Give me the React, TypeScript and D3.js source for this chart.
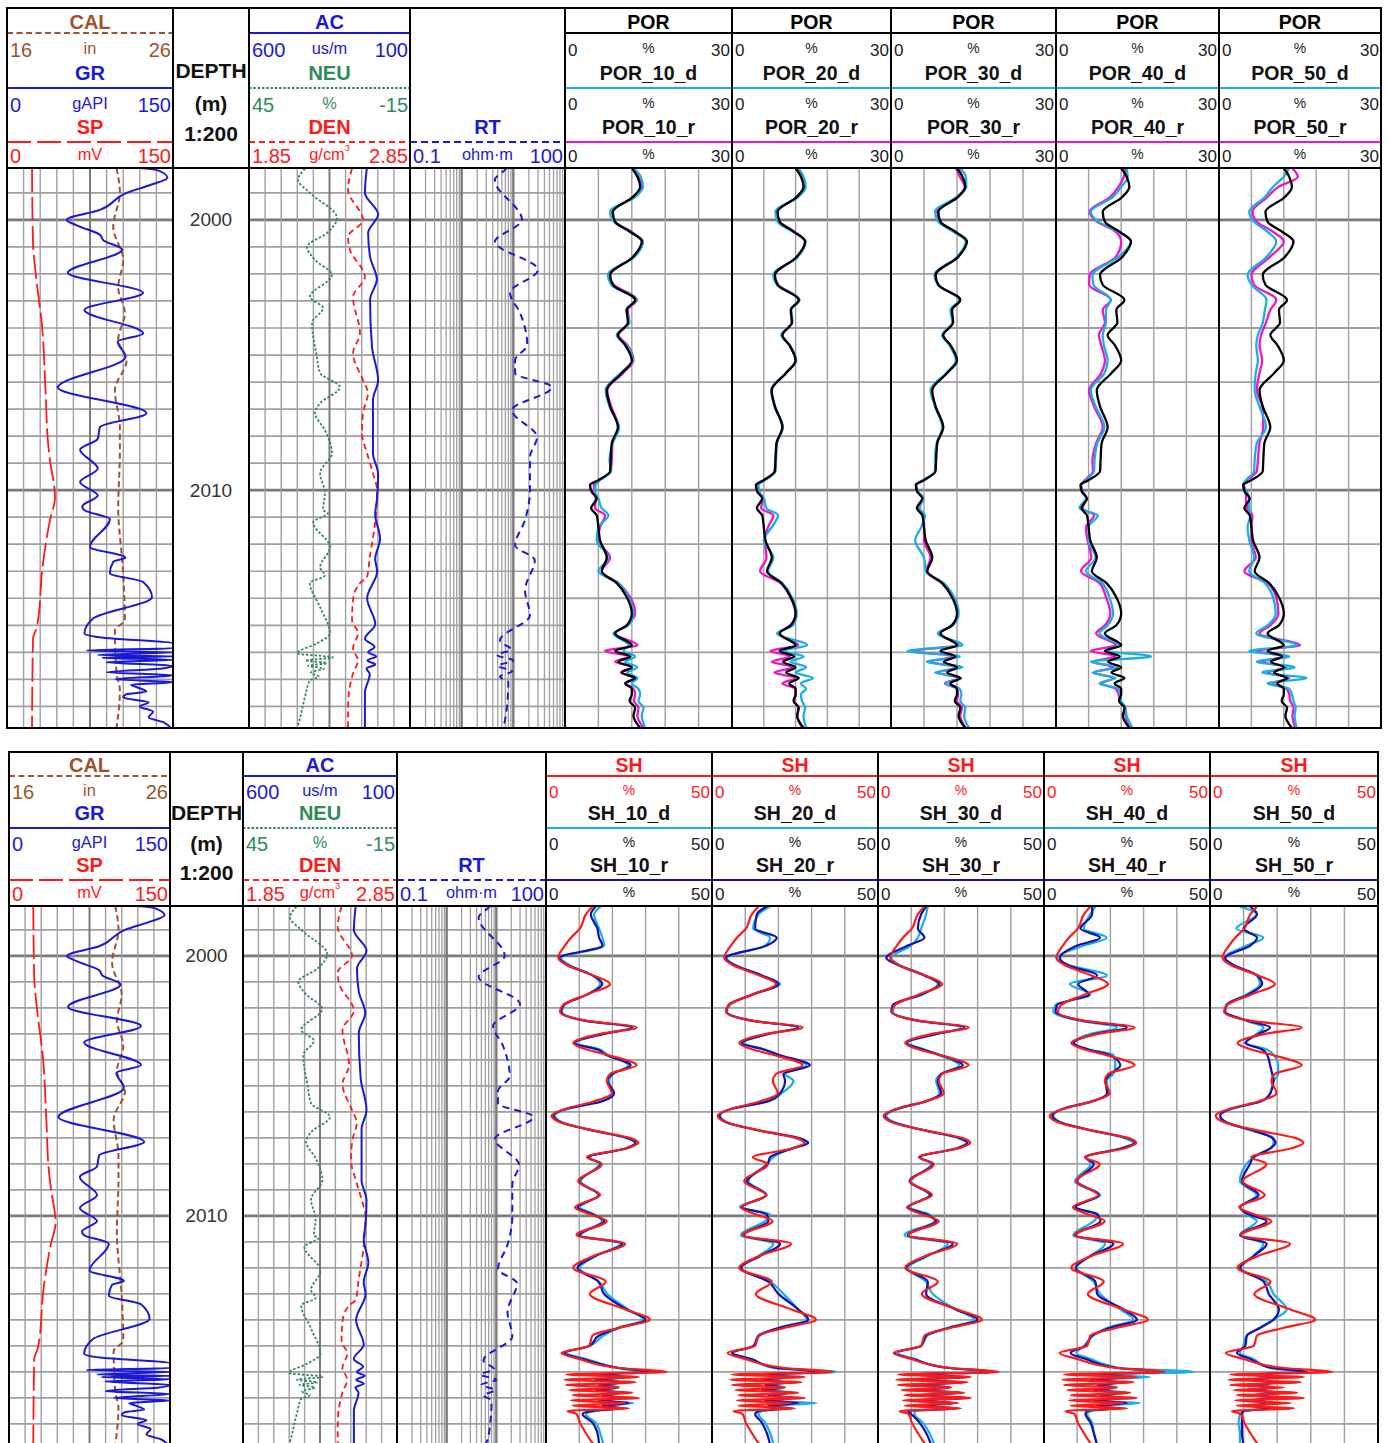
import * as d3 from "d3";
import type { ReactNode } from "react";

type Pt = [number, number];

const DEPTH_DOMAIN: [number, number] = [1998.08, 2018.8];

// ---- porosity comparison: depth knots (m) and values (%) ----
const porDepth = [
  1998.08, 1998.4, 1998.78, 1999.15, 1999.7, 2000.07, 2000.44, 2000.8, 2001.37, 2002.04,
  2002.4, 2002.96, 2003.33, 2003.8, 2004.26, 2004.63, 2005.2, 2005.67, 2006.3, 2006.9,
  2007.67, 2008.26, 2008.9, 2009.3, 2009.63, 2009.81, 2010.07, 2010.3, 2010.67, 2010.93,
  2011.37, 2011.85, 2012.5, 2013.0, 2013.44, 2013.96, 2014.56, 2015.0, 2015.3, 2015.74,
  2015.95, 2016.15, 2016.35, 2016.55, 2016.75, 2016.95, 2017.15, 2017.35, 2017.55, 2017.8,
  2018.05, 2018.35, 2018.8,
];
const porCore = [
  12.0, 13.0, 13.5, 12.2, 8.6, 9.0, 11.7, 13.8, 12.2, 8.1,
  8.6, 12.6, 11.1, 11.3, 9.5, 10.8, 12.0, 10.2, 7.5, 8.1,
  9.5, 8.4, 8.2, 8.1, 6.0, 4.5, 4.8, 5.7, 4.7, 5.7,
  6.0, 6.3, 7.5, 6.6, 9.3, 11.1, 12.0, 11.1, 9.0, 12.0,
  9.0, 11.7, 9.6, 12.0, 10.2, 12.6, 10.8, 12.0, 12.0, 11.6,
  12.6, 12.3, 13.5,
];
const por10d = [
  12.3, 13.6, 14.0, 12.6, 8.1, 8.8, 11.7, 14.0, 12.5, 7.7,
  8.3, 12.8, 11.0, 11.6, 9.3, 11.0, 12.2, 10.0, 7.3, 8.0,
  9.7, 8.6, 8.0, 8.3, 6.3, 5.5, 5.4, 6.0, 6.6, 7.8,
  6.0, 5.7, 7.8, 6.0, 9.6, 11.4, 12.3, 11.4, 8.7, 11.4,
  10.5, 12.6, 10.8, 13.0, 11.2, 13.0, 12.0, 13.2, 13.5, 13.2,
  14.1, 13.8, 14.4,
];
const por10r = [
  12.1, 13.2, 13.8, 12.4, 8.4, 9.0, 11.9, 14.0, 12.3, 8.0,
  8.8, 12.9, 11.3, 11.5, 9.6, 11.2, 12.3, 10.4, 7.6, 8.3,
  9.6, 8.5, 8.4, 8.2, 6.2, 5.2, 5.3, 5.5, 5.4, 7.2,
  6.3, 5.9, 8.1, 6.6, 9.6, 11.7, 12.6, 11.1, 9.0, 13.0,
  7.2, 11.4, 9.0, 12.0, 10.0, 12.5, 11.0, 12.3, 12.6, 12.4,
  13.2, 13.0, 14.1,
];
const por20d = [
  12.5, 13.5, 13.9, 12.5, 8.2, 8.6, 11.5, 13.9, 12.4, 7.8,
  8.5, 12.7, 11.2, 11.4, 9.3, 10.9, 12.1, 10.1, 7.4, 8.0,
  9.6, 8.5, 8.3, 8.2, 6.2, 5.0, 5.2, 6.0, 6.5, 8.7,
  7.5, 6.0, 7.8, 6.8, 9.5, 11.3, 12.2, 11.5, 8.5, 14.2,
  9.5, 13.5, 11.0, 14.0, 12.0, 15.3, 13.0, 14.0, 13.0, 13.2,
  13.8, 13.5, 14.0,
];
const por20r = [
  12.2, 13.3, 13.6, 12.3, 8.5, 9.0, 11.8, 13.8, 12.3, 8.0,
  8.7, 12.7, 11.1, 11.3, 9.5, 10.8, 12.0, 10.2, 7.4, 8.1,
  9.5, 8.4, 8.2, 8.0, 6.0, 4.8, 5.0, 5.8, 5.5, 7.8,
  6.8, 6.2, 6.5, 5.3, 9.2, 11.0, 12.0, 11.0, 8.8, 12.5,
  7.2, 11.0, 7.5, 11.5, 8.0, 12.0, 9.5, 12.0, 12.0, 11.8,
  12.5, 12.3, 13.3,
];
const por30d = [
  12.5, 13.6, 13.7, 12.0, 8.0, 8.6, 11.4, 13.6, 12.0, 7.9,
  8.5, 12.4, 10.8, 11.2, 9.3, 10.6, 11.8, 10.0, 7.2, 8.0,
  9.3, 8.3, 8.0, 8.0, 5.8, 4.6, 5.0, 5.9, 5.2, 6.2,
  5.5, 4.4, 6.0, 6.4, 9.6, 11.5, 12.3, 11.3, 8.5, 13.0,
  3.0, 12.5, 6.5, 13.0, 8.0, 12.8, 10.0, 12.5, 12.8, 12.6,
  13.5, 13.3, 14.2,
];
const por30r = [
  11.8, 12.5, 13.4, 12.0, 8.4, 8.9, 11.6, 13.7, 12.2, 8.1,
  8.6, 12.5, 11.0, 11.2, 9.4, 10.7, 11.9, 10.1, 7.4, 8.1,
  9.4, 8.4, 8.1, 8.0, 5.9, 4.6, 4.9, 5.7, 5.0, 5.9,
  6.0, 6.0, 7.2, 6.4, 9.3, 11.2, 12.1, 11.0, 8.8, 12.3,
  4.0, 11.5, 7.0, 12.0, 8.5, 12.3, 9.8, 12.0, 12.2, 12.0,
  12.9, 12.6, 13.6,
];
const por40d = [
  13.0, 13.2, 12.0, 10.5, 6.4, 7.8, 11.5, 13.8, 11.5, 6.7,
  6.9, 10.1, 9.2, 9.2, 8.6, 8.8, 9.5, 8.9, 6.4, 7.3,
  8.9, 7.6, 7.1, 7.0, 5.5, 4.6, 4.8, 5.5, 4.3, 7.7,
  6.0, 6.0, 7.3, 5.5, 8.5, 9.8, 10.5, 9.5, 8.0, 11.5,
  9.5, 17.5, 6.4, 11.5, 6.7, 11.0, 8.0, 11.5, 11.8, 12.0,
  12.8, 13.0, 14.1,
];
const por40r = [
  12.8, 12.5, 11.5, 10.0, 6.2, 7.6, 11.0, 12.0, 11.0, 6.2,
  6.1, 10.1, 8.6, 9.0, 7.9, 8.3, 9.0, 8.3, 6.1, 7.0,
  8.6, 7.4, 6.7, 6.8, 5.3, 4.6, 5.0, 5.6, 4.9, 7.0,
  5.5, 5.8, 6.5, 4.6, 8.0, 9.2, 10.0, 9.0, 7.4, 11.0,
  6.4, 11.0, 6.7, 10.5, 7.0, 10.5, 8.5, 11.0, 11.5, 11.8,
  12.6, 12.8, 13.5,
];
const por50d = [
  13.0, 12.0, 10.0, 8.5, 5.6, 6.5, 9.0, 10.6, 8.8, 5.3,
  6.0, 8.8, 8.5, 8.1, 7.2, 6.9, 7.2, 6.8, 6.6, 7.5,
  8.7, 7.0, 6.6, 6.5, 5.0, 4.4, 5.2, 5.6, 5.6, 5.8,
  5.3, 5.6, 6.5, 5.6, 8.5, 10.0, 10.5, 9.0, 6.9, 14.4,
  5.6, 13.0, 7.0, 14.0, 8.0, 16.2, 9.0, 13.0, 13.5, 13.8,
  14.2, 14.0, 14.4,
];
const por50r = [
  13.5, 14.6, 11.0, 9.0, 6.2, 7.0, 10.0, 12.0, 9.4, 6.0,
  6.5, 10.6, 9.5, 8.7, 7.8, 7.5, 8.0, 7.5, 7.0, 8.0,
  8.2, 7.5, 7.2, 7.0, 5.2, 4.6, 5.0, 5.0, 5.2, 6.2,
  6.0, 6.0, 6.8, 4.7, 9.0, 10.6, 11.0, 9.5, 7.5, 15.0,
  7.0, 12.0, 8.0, 12.5, 9.0, 13.0, 10.0, 12.5, 13.0, 13.2,
  13.8, 13.6, 14.1,
];

// ---- shale content comparison: depth knots (m) and values (%) ----
const shDepth = [
  1998.1, 1998.4, 1998.95, 1999.3, 1999.6, 2000.08, 2000.35, 2000.75, 2001.08, 2001.48,
  2001.88, 2002.15, 2002.5, 2002.75, 2003.0, 2003.35, 2003.6, 2003.8, 2004.21, 2004.54,
  2004.8, 2005.28, 2005.6, 2005.87, 2006.14, 2006.4, 2006.74, 2007.0, 2007.2, 2007.4,
  2007.74, 2008.0, 2008.67, 2009.2, 2009.67, 2009.94, 2010.2, 2010.74, 2011.07, 2011.54,
  2012.0, 2012.53, 2013.0, 2013.6, 2013.99, 2014.3, 2014.6, 2015.0, 2015.27, 2015.5,
  2015.85, 2016.0, 2016.1, 2016.2, 2016.3, 2016.4, 2016.5, 2016.6, 2016.7, 2016.8,
  2016.9, 2017.0, 2017.1, 2017.2, 2017.3, 2017.4, 2017.5, 2017.62, 2017.95, 2018.35,
  2018.8,
];
const shCore = [
  14.0, 12.0, 10.2, 7.5, 5.7, 3.7, 6.2, 14.3, 19.3, 12.3,
  5.2, 4.2, 12.3, 27.3, 16.3, 8.2, 12.3, 18.3, 27.3, 19.3,
  18.3, 19.8, 14.3, 6.2, 1.7, 4.2, 15.3, 25.3, 27.8, 24.3,
  12.3, 16.8, 9.7, 16.3, 8.7, 13.2, 18.3, 9.2, 23.8, 14.3,
  8.2, 18.0, 13.2, 24.0, 31.3, 22.0, 14.0, 13.0, 4.7, 10.0,
  22.0, 36.4, 6.0, 28.0, 5.5, 27.0, 6.0, 22.0, 7.0, 26.0,
  8.0, 28.0, 7.5, 24.0, 8.0, 25.0, 6.5, 9.2, 10.2, 12.0,
  14.3,
];
const sh10d = [
  16.5, 14.5, 16.0, 17.0, 17.5, 4.5, 7.0, 14.0, 16.3, 12.5,
  5.5, 4.8, 12.0, 25.3, 17.0, 9.0, 16.3, 18.5, 24.8, 20.3,
  19.0, 20.0, 16.5, 7.0, 2.7, 4.8, 15.0, 24.0, 26.8, 24.0,
  13.2, 16.0, 10.5, 15.8, 10.2, 14.5, 16.8, 10.5, 22.3, 15.0,
  10.2, 16.0, 18.5, 24.8, 29.3, 22.0, 17.3, 13.2, 6.2, 12.0,
  21.3, 27.3, 18, 25, 17, 24, 18, 22, 17, 23,
  19, 21, 17, 26.3, 18, 22, 15, 12.0, 15.0, 16.3,
  17.3,
];
const sh10r = [
  15.0, 13.5, 15.5, 16.0, 17.0, 4.0, 6.5, 14.0, 17.0, 12.5,
  5.5, 4.5, 12.0, 26.0, 17.5, 8.5, 15.5, 18.0, 25.5, 20.0,
  18.5, 20.5, 16.8, 6.5, 2.2, 4.5, 15.0, 24.5, 27.0, 24.3,
  12.8, 16.5, 10.0, 16.0, 9.5, 14.0, 17.5, 10.0, 23.0, 14.8,
  9.5, 15.8, 17.5, 24.3, 30.0, 22.0, 16.0, 13.0, 5.5, 11.0,
  22.0, 31.3, 16, 24, 15, 23, 16, 21, 15, 22,
  17, 23, 16, 25, 17, 23, 14, 11.0, 14.0, 15.5,
  16.0,
];
const sh20d = [
  17.5, 14.0, 12.4, 17.5, 16.0, 4.4, 7.0, 15.0, 20.5, 12.0,
  5.5, 4.5, 12.5, 25.5, 17.0, 9.5, 16.0, 20.0, 28.5, 22.0,
  24.5, 21.0, 17.0, 6.5, 2.4, 4.5, 15.0, 25.0, 28.5, 24.0,
  18.5, 16.5, 11.0, 16.5, 8.4, 17.5, 16.0, 8.7, 18.5, 14.0,
  8.4, 17.5, 21.5, 26.0, 28.5, 20.0, 14.5, 12.5, 6.4, 12.0,
  18.5, 37.5, 17, 24, 16, 23, 18, 22, 17, 24,
  18, 25, 17, 31.5, 18, 24, 15, 14.0, 16.0, 17.5,
  18.5,
];
const sh20r = [
  16.5, 13.5, 13.0, 19.5, 16.5, 4.0, 6.8, 15.0, 20.0, 12.3,
  5.0, 4.3, 12.3, 26.0, 17.0, 9.0, 15.5, 20.0, 29.5, 21.5,
  22.0, 20.5, 16.5, 6.2, 2.2, 4.3, 15.3, 26.0, 29.0, 24.5,
  17.5, 16.8, 10.5, 16.3, 9.0, 16.5, 17.0, 9.5, 20.5, 14.5,
  8.8, 17.0, 20.0, 26.0, 29.0, 20.5, 14.0, 12.5, 6.0, 11.5,
  19.5, 33.5, 16, 24, 15, 22, 16, 21, 15, 23,
  17, 24, 16, 26, 17, 22, 14, 13.0, 15.0, 16.5,
  17.5,
];
const sh30d = [
  15.0, 14.5, 13.0, 12.0, 10.0, 4.0, 6.5, 14.0, 18.0, 13.5,
  5.0, 4.5, 12.0, 25.0, 18.0, 9.0, 14.0, 18.0, 24.5, 19.0,
  17.5, 18.5, 14.5, 6.5, 2.5, 5.0, 15.0, 24.0, 26.5, 23.5,
  13.0, 16.0, 10.0, 15.5, 9.5, 15.5, 17.0, 8.0, 21.0, 15.0,
  9.0, 14.5, 16.5, 23.5, 29.0, 21.0, 15.0, 13.0, 6.0, 11.0,
  21.0, 34.0, 14, 26, 12, 25, 13, 21, 12, 24,
  14, 26, 12, 23, 13, 24, 11, 11.0, 13.5, 15.5,
  17.0,
];
const sh30r = [
  14.5, 13.0, 12.0, 14.0, 9.0, 2.5, 6.0, 14.0, 18.5, 13.0,
  4.5, 4.0, 12.5, 26.0, 17.5, 8.5, 13.5, 18.5, 25.5, 19.0,
  18.0, 19.0, 14.0, 6.0, 2.0, 4.5, 15.0, 24.5, 27.0, 24.0,
  12.5, 16.5, 9.5, 15.8, 9.0, 14.5, 17.5, 9.0, 22.5, 14.5,
  8.5, 15.0, 14.5, 23.5, 30.0, 21.5, 14.5, 13.0, 5.0, 10.5,
  21.5, 35.0, 10, 27, 9, 26, 10, 22, 10, 25,
  11, 27, 10, 24, 11, 24, 9, 10.0, 12.5, 14.5,
  16.0,
];
const sh40d = [
  15.5, 13.9, 12.0, 18.9, 12.0, 4.0, 7.5, 18.9, 7.8, 14.0,
  3.5, 2.8, 11.0, 22.0, 14.0, 8.8, 13.0, 20.9, 21.5, 20.9,
  18.9, 19.5, 14.0, 6.0, 2.8, 5.0, 15.0, 24.0, 26.9, 23.0,
  12.8, 14.0, 9.3, 16.9, 8.8, 16.4, 15.0, 8.8, 18.4, 14.0,
  9.8, 15.0, 16.9, 23.0, 26.9, 19.0, 14.9, 12.0, 9.8, 14.0,
  22.9, 45.0, 16, 32, 15, 24, 17, 22, 16, 25,
  18, 24, 16, 28.9, 17, 22, 14, 13.0, 14.5, 15.0,
  15.9,
];
const sh40r = [
  14.5, 14.5, 11.0, 16.9, 10.0, 4.8, 7.0, 16.0, 10.3, 13.5,
  4.0, 3.5, 12.0, 24.9, 15.5, 9.0, 13.5, 19.5, 23.0, 20.0,
  18.5, 19.0, 14.5, 6.0, 2.5, 4.8, 15.5, 25.0, 27.5, 23.5,
  12.5, 15.0, 10.0, 16.5, 9.5, 16.0, 17.0, 9.5, 20.9, 14.0,
  9.5, 15.5, 16.0, 24.0, 28.0, 20.0, 14.5, 12.5, 8.0, 12.5,
  22.0, 35.0, 15, 26, 14, 23, 16, 21, 15, 23,
  17, 23, 15, 25, 16, 21, 13, 12.5, 14.0, 15.0,
  16.0,
];
const sh50d = [
  8.9, 13.9, 7.8, 15.9, 10.9, 4.3, 6.8, 13.9, 14.9, 10.9,
  4.8, 4.3, 10.9, 15.9, 13.9, 10.9, 16.9, 18.9, 20.3, 20.3,
  18.9, 17.9, 14.9, 6.8, 3.0, 4.8, 12.9, 18.9, 18.9, 17.9,
  12.9, 10.9, 8.9, 13.9, 8.9, 10.9, 13.9, 8.9, 15.9, 12.9,
  8.9, 16.9, 18.9, 22.8, 18.9, 14.9, 10.9, 9.9, 8.9, 12.9,
  17.9, 26.8, 12, 20, 11, 19, 12, 18, 11, 20,
  12, 21, 11, 19, 12, 18, 10, 8.9, 8.5, 8.9,
  8.9,
];
const sh50r = [
  12.0, 14.0, 10.0, 14.0, 12.0, 4.5, 7.0, 14.0, 15.5, 11.5,
  5.0, 4.5, 11.5, 17.9, 14.5, 10.5, 15.5, 17.0, 17.9, 18.5,
  18.9, 18.0, 15.0, 6.5, 3.0, 4.8, 13.5, 18.5, 19.5, 18.0,
  13.0, 11.9, 9.5, 14.5, 9.0, 11.5, 16.9, 9.0, 16.9, 13.0,
  9.0, 16.0, 17.5, 20.5, 18.9, 15.0, 11.0, 10.5, 8.0, 12.0,
  18.5, 28.8, 13, 22, 12, 21, 13, 19, 12, 21,
  13, 22, 12, 20, 12, 19, 10, 9.5, 9.5, 9.5,
  10.0,
];

// ---- conventional logs: [depth m, value] ----
const grLog: Pt[] = [
  [1998.08, 120], [1998.15, 135], [1998.44, 145], [1998.7, 130], [1999.0, 108], [1999.63, 84],
  [2000.0, 54], [2000.2, 63], [2000.55, 84], [2000.75, 87], [2001.1, 104], [2001.96, 55],
  [2002.7, 123], [2003.33, 70], [2004.2, 123], [2004.5, 100], [2005.07, 107], [2006.2, 46],
  [2007.15, 126], [2007.67, 84], [2008.1, 82], [2008.5, 66], [2009.2, 82], [2009.7, 66],
  [2010.2, 82], [2010.6, 68], [2010.74, 70], [2011.07, 93], [2012.1, 75], [2012.5, 107],
  [2012.65, 96], [2013.07, 93], [2013.4, 123], [2013.96, 131], [2014.74, 78], [2015.3, 70],
  [2015.45, 85], [2015.67, 150], [2015.85, 150], [2015.93, 72], [2016.0, 150], [2016.1, 82],
  [2016.15, 150], [2016.2, 86], [2016.28, 150], [2016.37, 90], [2016.5, 150], [2016.6, 140],
  [2016.74, 90], [2016.85, 150], [2017.0, 98], [2017.1, 150], [2017.2, 112], [2017.3, 118],
  [2017.45, 126], [2017.55, 108], [2017.67, 105], [2017.85, 128], [2018.0, 120], [2018.2, 132],
  [2018.4, 128], [2018.6, 142], [2018.8, 148],
];
const calLog: Pt[] = [
  [1998.08, 22.6], [1999.0, 22.8], [2000.26, 22.4], [2001.48, 23.0], [2002.5, 22.7],
  [2003.44, 23.1], [2004.44, 22.7], [2005.2, 23.2], [2006.3, 22.5], [2007.67, 22.8],
  [2008.6, 22.8], [2010.63, 22.7], [2013.07, 23.0], [2014.8, 23.1], [2015.2, 22.5],
  [2016.76, 22.6], [2017.4, 22.8], [2018.8, 22.6],
];
const spLog: Pt[] = [
  [1998.08, 22.6], [2000.85, 23.5], [2002.0, 26.0], [2003.9, 31.6], [2006.5, 35.0],
  [2008.2, 37.0], [2008.9, 38.9], [2010.26, 43.4], [2011.1, 38.9], [2012.7, 32.5],
  [2015.05, 27.1], [2015.5, 23.5], [2018.8, 22.6],
];
const acLog: Pt[] = [
  [1998.08, 234], [1999.0, 240], [1999.8, 199], [2000.48, 230], [2001.37, 224], [2002.2, 203],
  [2002.96, 224], [2004.7, 218], [2005.93, 199], [2006.67, 215], [2008.63, 215], [2009.4, 199],
  [2010.3, 202], [2010.9, 208], [2011.8, 193], [2012.55, 208], [2013.0, 202], [2014.0, 233],
  [2014.96, 208], [2015.5, 240], [2015.8, 210], [2016.0, 230], [2016.15, 205], [2016.3, 232],
  [2016.45, 208], [2016.6, 235], [2016.8, 225], [2017.5, 240], [2018.8, 240],
];
const neuLog: Pt[] = [
  [1998.1, 24.1], [1998.52, 26.7], [1999.0, 22.3], [1999.93, 12.2], [2000.48, 15.9],
  [2001.0, 23.4], [2001.48, 20.4], [2002.04, 14.1], [2002.85, 22.3], [2003.26, 17.4],
  [2003.81, 21.5], [2005.07, 19.7], [2005.67, 18.5], [2006.19, 11.1], [2006.78, 18.5],
  [2007.15, 20.4], [2007.78, 16.7], [2008.63, 14.1], [2009.37, 18.5], [2010.11, 16.7],
  [2010.74, 17.4], [2010.85, 15.6], [2011.19, 21.1], [2012.11, 14.8], [2012.85, 18.5],
  [2013.15, 16.7], [2013.44, 22.3], [2014.33, 18.5], [2015.3, 14.8], [2015.67, 19.7],
  [2016.04, 27.1], [2016.19, 13.7], [2016.3, 24.0], [2016.4, 16.0], [2016.5, 23.0],
  [2016.6, 17.0], [2016.75, 22.0], [2016.9, 19.0], [2017.04, 22.3], [2017.6, 24.0],
  [2018.7, 26.7], [2018.8, 27.0],
];
const denLog: Pt[] = [
  [1998.1, 2.49], [1998.89, 2.465], [2000.0, 2.558], [2000.63, 2.465], [2001.11, 2.477],
  [2002.11, 2.57], [2002.85, 2.496], [2004.19, 2.539], [2004.93, 2.496], [2005.93, 2.558],
  [2006.41, 2.589], [2007.15, 2.558], [2007.89, 2.552], [2008.63, 2.583], [2009.37, 2.62],
  [2010.0, 2.645], [2011.22, 2.633], [2012.48, 2.6], [2013.22, 2.583], [2013.44, 2.539],
  [2014.07, 2.496], [2014.81, 2.49], [2015.3, 2.527], [2015.85, 2.496], [2016.3, 2.527],
  [2016.78, 2.496], [2018.04, 2.465], [2018.8, 2.465],
];
const rtLog: Pt[] = [
  [1998.08, 7.5], [1998.15, 6.9], [1998.52, 4.4], [2000.0, 14.7], [2000.81, 4.4],
  [2001.85, 30], [2002.7, 8.6], [2003.44, 13.5], [2004.63, 18.6], [2005.19, 10.8],
  [2005.67, 10.8], [2006.19, 56], [2007.04, 9.4], [2008.04, 28.7], [2008.78, 21],
  [2010.0, 21], [2011.11, 16.8], [2012.04, 10.8], [2012.59, 26], [2013.7, 16.8],
  [2014.63, 21], [2015.56, 5.5], [2015.9, 9], [2016.1, 4.8], [2016.3, 10], [2016.5, 5],
  [2016.7, 9.5], [2016.9, 5.5], [2017.1, 8], [2018.52, 6.9], [2018.8, 6],
];

const depthLabels = [2000, 2010];
const runs = ["10", "20", "30", "40", "50"];
const porPairs = [[por10d, por10r], [por20d, por20r], [por30d, por30r], [por40d, por40r], [por50d, por50r]];
const shPairs = [[sh10d, sh10r], [sh20d, sh20r], [sh30d, sh30r], [sh40d, sh40r], [sh50d, sh50r]];

const FONT = "'Liberation Sans', Arial, Helvetica, sans-serif";
const COL = {
  brown: "#a0522d",
  blue: "#1a1ad6",
  red: "#ff1a1a",
  green: "#2e8b57",
  cyan: "#1aaee8",
  magenta: "#ee14cc",
  navy: "#1212b0",
  grid: "#a0a0a0",
  gridDark: "#7a7a7a",
};

const zip = (depths: number[], vals: number[]): Pt[] => depths.map((d, i) => [d, vals[i]]);

function Curve({ data, x, y, stroke, width = 2, dash }: {
  data: Pt[]; x: (v: number) => number; y: (d: number) => number; stroke: string; width?: number; dash?: string;
}) {
  const line = d3.line<Pt>().x((p) => x(p[1])).y((p) => y(p[0])).curve(d3.curveMonotoneY);
  return <path d={line(data) ?? ""} fill="none" stroke={stroke} strokeWidth={width} strokeDasharray={dash} strokeLinejoin="round" />;
}

function ScaleRow({ x0, x1, y, lo, unit, hi, color, size }: {
  x0: number; x1: number; y: number; lo: string; unit: ReactNode; hi: string; color: string; size: number;
}) {
  return (
    <g fill={color} fontSize={size} dominantBaseline="central">
      <text x={x0 + 3} y={y}>{lo}</text>
      <text x={(x0 + x1) / 2} y={y - 2} textAnchor="middle" fontSize={size * 0.82}>{unit}</text>
      <text x={x1 - 2} y={y}>{""}</text>
      <text x={x1 - 2} y={y} textAnchor="end">{hi}</text>
    </g>
  );
}

function Title({ x0, x1, y, color, children, size = 20 }: { x0: number; x1: number; y: number; color: string; children: ReactNode; size?: number }) {
  return (
    <text x={(x0 + x1) / 2} y={y} textAnchor="middle" dominantBaseline="central" fontWeight="bold" fontSize={size} fill={color}>
      {children}
    </text>
  );
}

function Panel({ id, xs, rows, yEnd, kind }: { id: string; xs: number[]; rows: number[]; yEnd: number; kind: "POR" | "SH" }) {
  const [top, r1, r2, r3, dTop] = rows;
  const y = d3.scaleLinear().domain(DEPTH_DOMAIN).range([dTop, yEnd]);
  const lerp = (a: number, b: number, f: number) => a + (b - a) * f;
  const n2 = lerp(r1, r2, 0.31), t2 = lerp(r1, r2, 0.72);
  const n3 = lerp(r2, r3, 0.31), t3 = lerp(r2, r3, 0.72);
  const t1 = (top + r1) / 2 + 1, n4 = (r3 + dTop) / 2 + 1;

  const metres = d3.range(1999, 2019);
  const evens = d3.range(2000, 2019, 2);

  const hGrid = (x0: number, x1: number, ds: number[], w = 1.7) =>
    ds.map((d) => (
      <line key={`h${d}`} x1={x0} x2={x1} y1={y(d)} y2={y(d)}
        stroke={d % 10 === 0 ? COL.gridDark : COL.grid} strokeWidth={d % 10 === 0 ? 2.6 : w} />
    ));
  const vGrid = (x0: number, x1: number, n: number) =>
    d3.range(1, n).map((i) => {
      const x = x0 + (i * (x1 - x0)) / n;
      const mid = n === 10 && i === 5;
      return <line key={`v${i}`} x1={x} x2={x} y1={dTop} y2={yEnd} stroke={mid ? COL.gridDark : COL.grid} strokeWidth={mid ? 2 : 1.4} />;
    });

  const clip = (i: number) => `url(#${id}-c${i})`;

  // track 0: CAL / GR / SP
  const [a0, a1] = [xs[0], xs[1]];
  const grX = d3.scaleLinear().domain([0, 150]).range([a0, a1]);
  const calX = d3.scaleLinear().domain([16, 26]).range([a0, a1]);
  const spX = d3.scaleLinear().domain([0, 150]).range([a0, a1]);
  // track 2: AC / NEU / DEN
  const [b0, b1] = [xs[2], xs[3]];
  const acX = d3.scaleLinear().domain([600, 100]).range([b0, b1]);
  const neuX = d3.scaleLinear().domain([45, -15]).range([b0, b1]);
  const denX = d3.scaleLinear().domain([1.85, 2.85]).range([b0, b1]);
  // track 3: RT
  const [c0, c1] = [xs[3], xs[4]];
  const rtX = d3.scaleLog().domain([0.1, 100]).range([c0, c1]);
  const rtLines: number[] = [];
  [0.1, 1, 10].forEach((base) => d3.range(2, 10).forEach((k) => rtLines.push(k * base)));

  const numSize = 20, titleSize = 20;
  const isPor = kind === "POR";
  const maxV = isPor ? 30 : 50;
  const coreColor = isPor ? "#000" : COL.red;
  const rColor = isPor ? COL.magenta : COL.navy;
  const core = isPor ? zip(porDepth, porCore) : zip(shDepth, shCore);
  const pairs = isPor ? porPairs : shPairs;
  const knots = isPor ? porDepth : shDepth;
  const mid = (xs[1] + xs[2]) / 2;

  return (
    <g fontFamily={FONT}>
      <defs>
        {xs.slice(0, 9).map((x, i) => (
          <clipPath id={`${id}-c${i}`} key={i}>
            <rect x={x} y={dTop} width={xs[i + 1] - x} height={yEnd - dTop} />
          </clipPath>
        ))}
      </defs>

      {/* grids */}
      <g>
        {hGrid(a0, a1, metres)}
        {vGrid(a0, a1, 10)}
        {hGrid(b0, b1, metres)}
        {vGrid(b0, b1, 10)}
        {hGrid(c0, c1, metres)}
        {rtLines.map((v) => (
          <line key={`rt${v}`} x1={rtX(v)} x2={rtX(v)} y1={dTop} y2={yEnd} stroke={COL.grid} strokeWidth={1.3} />
        ))}
        {[1, 10].map((v) => (
          <line key={`rtd${v}`} x1={rtX(v)} x2={rtX(v)} y1={dTop} y2={yEnd} stroke={COL.gridDark} strokeWidth={2.4} />
        ))}
        {runs.map((_, k) => (
          <g key={k}>
            {hGrid(xs[4 + k], xs[5 + k], evens, 1.8)}
            {vGrid(xs[4 + k], xs[5 + k], 5)}
          </g>
        ))}
      </g>

      {/* curves */}
      <g clipPath={clip(0)}>
        <Curve data={spLog} x={spX} y={y} stroke={COL.red} width={1.8} dash="24 5" />
        <Curve data={calLog} x={calX} y={y} stroke={COL.brown} width={2} dash="6 3.5" />
        <Curve data={grLog} x={grX} y={y} stroke={COL.blue} width={2} />
      </g>
      <g clipPath={clip(2)}>
        <Curve data={neuLog} x={neuX} y={y} stroke={COL.green} width={1.8} dash="2.5 1.8" />
        <Curve data={denLog} x={denX} y={y} stroke={COL.red} width={1.8} dash="6 4" />
        <Curve data={acLog} x={acX} y={y} stroke={COL.blue} width={2} />
      </g>
      <g clipPath={clip(3)}>
        <Curve data={rtLog} x={rtX} y={y} stroke={COL.blue} width={2} dash="7 5" />
      </g>
      {runs.map((_, k) => {
        const x = d3.scaleLinear().domain([0, maxV]).range([xs[4 + k], xs[5 + k]]);
        const [dv, rv] = pairs[k];
        return (
          <g key={k} clipPath={clip(4 + k)}>
            {isPor ? (
              <>
                <Curve data={zip(knots, rv)} x={x} y={y} stroke={COL.magenta} width={2.3} />
                <Curve data={zip(knots, dv)} x={x} y={y} stroke={COL.cyan} width={2.3} />
                <Curve data={core} x={x} y={y} stroke="#000" width={2.3} />
              </>
            ) : (
              <>
                <Curve data={zip(knots, dv)} x={x} y={y} stroke={COL.cyan} width={2.2} />
                <Curve data={zip(knots, rv)} x={x} y={y} stroke={COL.navy} width={2.2} />
                <Curve data={core} x={x} y={y} stroke={COL.red} width={2.2} />
              </>
            )}
          </g>
        );
      })}

      {/* depth labels */}
      {depthLabels.map((d) => (
        <text key={d} x={mid} y={y(d)} textAnchor="middle" dominantBaseline="central" fontSize={19} fill="#333">
          {d}
        </text>
      ))}

      {/* header: CAL / GR / SP */}
      <Title x0={a0} x1={a1} y={t1} color={COL.brown} size={titleSize}>CAL</Title>
      <line x1={a0} x2={a1} y1={r1} y2={r1} stroke={COL.brown} strokeWidth={2} strokeDasharray="6 3.5" />
      <ScaleRow x0={a0} x1={a1} y={n2} lo="16" unit="in" hi="26" color={COL.brown} size={numSize} />
      <Title x0={a0} x1={a1} y={t2} color={COL.blue} size={titleSize}>GR</Title>
      <line x1={a0} x2={a1} y1={r2} y2={r2} stroke={COL.blue} strokeWidth={2} />
      <ScaleRow x0={a0} x1={a1} y={n3} lo="0" unit="gAPI" hi="150" color={COL.blue} size={numSize} />
      <Title x0={a0} x1={a1} y={t3} color={COL.red} size={titleSize}>SP</Title>
      <line x1={a0} x2={a1} y1={r3} y2={r3} stroke={COL.red} strokeWidth={2} strokeDasharray="24 6" />
      <ScaleRow x0={a0} x1={a1} y={n4} lo="0" unit="mV" hi="150" color={COL.red} size={numSize} />

      {/* header: depth */}
      <g fontWeight="bold" fontSize={21} textAnchor="middle" dominantBaseline="central" fill="#111">
        <text x={mid} y={lerp(top, dTop, 0.39)}>DEPTH</text>
        <text x={mid} y={lerp(top, dTop, 0.595)}>(m)</text>
        <text x={mid} y={lerp(top, dTop, 0.785)}>1:200</text>
      </g>

      {/* header: AC / NEU / DEN */}
      <Title x0={b0} x1={b1} y={t1} color={COL.blue} size={titleSize}>AC</Title>
      <line x1={b0} x2={b1} y1={r1} y2={r1} stroke={COL.blue} strokeWidth={2} />
      <ScaleRow x0={b0} x1={b1} y={n2} lo="600" unit="us/m" hi="100" color={COL.blue} size={numSize} />
      <Title x0={b0} x1={b1} y={t2} color={COL.green} size={titleSize}>NEU</Title>
      <line x1={b0} x2={b1} y1={r2} y2={r2} stroke={COL.green} strokeWidth={2} strokeDasharray="2.5 1.8" />
      <ScaleRow x0={b0} x1={b1} y={n3} lo="45" unit="%" hi="-15" color={COL.green} size={numSize} />
      <Title x0={b0} x1={b1} y={t3} color={COL.red} size={titleSize}>DEN</Title>
      <line x1={b0} x2={b1} y1={r3} y2={r3} stroke={COL.red} strokeWidth={2} strokeDasharray="6 4" />
      <ScaleRow x0={b0} x1={b1} y={n4} lo="1.85"
        unit={<><tspan>g/cm</tspan><tspan dy={-6} fontSize={9}>3</tspan></>}
        hi="2.85" color={COL.red} size={numSize} />

      {/* header: RT */}
      <Title x0={c0} x1={c1} y={t3} color={COL.blue} size={titleSize}>RT</Title>
      <line x1={c0} x2={c1} y1={r3} y2={r3} stroke={COL.blue} strokeWidth={2} strokeDasharray="7 4" />
      <ScaleRow x0={c0} x1={c1} y={n4} lo="0.1" unit="ohm·m" hi="100" color={COL.blue} size={numSize} />

      {/* header: comparison tracks */}
      {runs.map((run, k) => {
        const x0 = xs[4 + k], x1 = xs[5 + k];
        const s = 17;
        return (
          <g key={run}>
            <Title x0={x0} x1={x1} y={t1} color={coreColor} size={19.5}>{kind}</Title>
            <line x1={x0} x2={x1} y1={r1} y2={r1} stroke={coreColor} strokeWidth={2} />
            <ScaleRow x0={x0} x1={x1} y={n2} lo="0" unit="%" hi={String(maxV)} color={isPor ? "#222" : COL.red} size={s} />
            <Title x0={x0} x1={x1} y={t2} color="#111" size={19.5}>{`${kind}_${run}_d`}</Title>
            <line x1={x0} x2={x1} y1={r2} y2={r2} stroke={COL.cyan} strokeWidth={2.2} />
            <ScaleRow x0={x0} x1={x1} y={n3} lo="0" unit="%" hi={String(maxV)} color="#222" size={s} />
            <Title x0={x0} x1={x1} y={t3} color="#111" size={19.5}>{`${kind}_${run}_r`}</Title>
            <line x1={x0} x2={x1} y1={r3} y2={r3} stroke={rColor} strokeWidth={2.2} />
            <ScaleRow x0={x0} x1={x1} y={n4} lo="0" unit="%" hi={String(maxV)} color="#222" size={s} />
          </g>
        );
      })}

      {/* frame */}
      <g stroke="#000" strokeWidth={2} fill="none">
        <rect x={xs[0]} y={top} width={xs[9] - xs[0]} height={yEnd - top} />
        {xs.slice(1, 9).map((x) => (
          <line key={x} x1={x} x2={x} y1={top} y2={yEnd} />
        ))}
        <line x1={xs[0]} x2={xs[9]} y1={dTop} y2={dTop} />
      </g>
    </g>
  );
}

export default function App() {
  return (
    <svg width={1388} height={1443} style={{ position: "absolute", left: 0, top: 0, background: "#fff" }}>
      <rect width={1388} height={1443} fill="#fff" />
      <Panel id="top" kind="POR" xs={[7, 173, 249, 410, 565, 732, 891, 1056, 1219, 1381]} rows={[8, 33, 88, 142, 168]} yEnd={728} />
      <Panel id="bot" kind="SH" xs={[9, 170, 243, 397, 546, 712, 878, 1044, 1210, 1378]} rows={[752, 776, 828, 880, 906]} yEnd={1444.7} />
    </svg>
  );
}
